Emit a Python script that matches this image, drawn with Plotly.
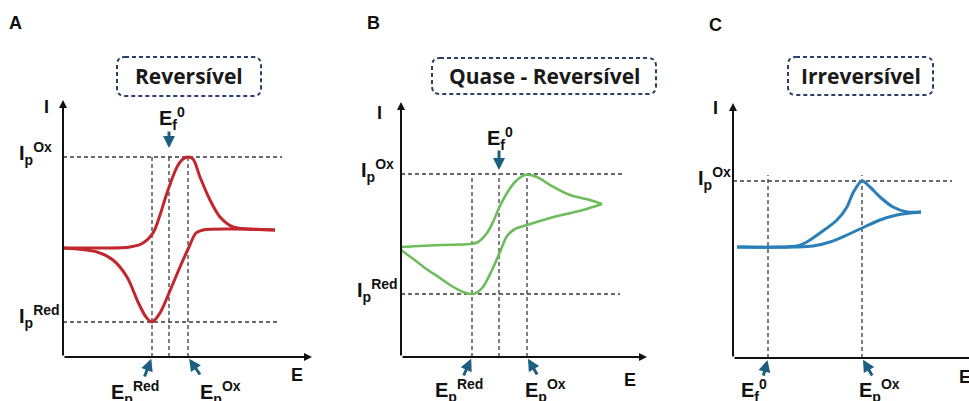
import plotly.graph_objects as go

W, H = 969, 401

# ---------------- data (E and I in arbitrary units) ----------------
# A: reversible
a_fwd_E = [0, 3.7, 6.7, 8.0, 9.0, 9.7, 10.4, 11.4, 12.0, 12.5, 13.0, 13.7, 14.7, 15.7, 17.0, 18.7, 21.2]
a_fwd_I = [10.9, 10.9, 11.0, 11.4, 12.4, 14.2, 16.4, 19.0, 19.8, 20.0, 19.8, 18.0, 15.7, 14.0, 13.0, 12.8, 12.7]
a_rev_E = [21.2, 17.0, 14.0, 13.3, 12.6, 11.7, 10.6, 9.7, 8.9, 8.3, 7.5, 6.4, 5.0, 3.4, 0]
a_rev_I = [12.7, 12.8, 12.7, 12.4, 11.0, 9.0, 6.4, 4.4, 3.5, 4.0, 5.5, 8.0, 9.7, 10.5, 10.9]
a_E_red, a_E_f0, a_E_ox = 8.9, 10.6, 12.5
a_I_red, a_I_ox = 3.5, 20.0

# B: quasi-reversible
b_fwd_E = [0, 3.9, 6.9, 7.7, 8.6, 9.2, 9.8, 10.6, 11.4, 12.4, 13.6, 14.9, 16.9, 18.9, 20.1]
b_fwd_I = [11.0, 11.2, 11.3, 11.5, 12.4, 13.5, 14.9, 16.4, 17.5, 18.2, 18.0, 17.2, 16.2, 15.7, 15.3]
b_rev_E = [20.1, 18.2, 14.9, 12.6, 11.4, 10.6, 9.9, 9.1, 8.2, 7.5, 7.0, 6.2, 4.9, 3.9, 2.4, 1.1, 0]
b_rev_I = [15.3, 14.7, 13.9, 13.2, 12.8, 12.1, 10.5, 8.7, 7.0, 6.4, 6.3, 6.5, 7.2, 7.9, 8.9, 9.9, 10.7]
b_E_red, b_E_f0, b_E_ox = 7.1, 9.8, 12.6
b_I_red, b_I_ox = 6.3, 18.3

# C: irreversible
c_fwd_E = [0.4, 4.7, 6.4, 7.2, 8.7, 10.4, 11.4, 12.0, 12.9, 13.7, 14.7, 16.0, 17.4, 18.8]
c_fwd_I = [11.1, 11.1, 11.2, 11.5, 12.5, 13.8, 15.1, 16.5, 17.7, 17.1, 16.1, 15.1, 14.6, 14.6]
c_rev_E = [18.8, 16.4, 14.7, 12.9, 11.4, 9.7, 8.0, 6.2, 0.4]
c_rev_I = [14.6, 14.3, 13.8, 13.0, 12.3, 11.6, 11.2, 11.1, 11.1]
c_E_f0, c_E_ox = 3.5, 12.9
c_I_ox = 17.7

titles = ["Reversível", "Quase - Reversível", "Irreversível"]
panel_letters = ["A", "B", "C"]

RED = "#c1272d"
GREEN = "#6dbd5c"
BLUE = "#2b7fb8"
TEAL = "#1d5f80"
GUIDE = "#3a3a3a"
NAVY = "#2b3f6b"
LABEL_FONT = "Liberation Sans, Arial, sans-serif"
TITLE_FONT = "Open Sans, sans-serif"


def px(x):
    return x / W


def py(y):
    return 1 - y / H


fig = go.Figure()

# axis frames for the three panels (pixel boxes -> paper domains)
frames = [
    dict(x0=63, x1=312, y0=357, y1=100, xr=24.9, yr=25.7),
    dict(x0=401, x1=647, y0=357, y1=102, xr=24.6, yr=25.5),
    dict(x0=733, x1=969, y0=358, y1=103, xr=23.6, yr=25.5),
]
for i, f in enumerate(frames, start=1):
    sfx = "" if i == 1 else str(i)
    fig.layout["xaxis" + sfx] = dict(domain=[px(f["x0"]), px(f["x1"])], range=[0, f["xr"]],
                                     visible=False, anchor="y" + sfx)
    fig.layout["yaxis" + sfx] = dict(domain=[py(f["y0"]), py(f["y1"])], range=[0, f["yr"]],
                                     visible=False, anchor="x" + sfx)


def guides(xa, ya, h_levels, h_len, v_pos, v_top):
    xs, ys = [], []
    for lv, ln in zip(h_levels, h_len):
        xs += [0, ln, None]
        ys += [lv, lv, None]
    for e, top in zip(v_pos, v_top):
        xs += [e, e, None]
        ys += [0, top, None]
    fig.add_trace(go.Scatter(x=xs, y=ys, mode="lines", xaxis=xa, yaxis=ya, hoverinfo="skip",
                             line=dict(color=GUIDE, width=1.3, dash="4px,3px"), showlegend=False))


def curve(xa, ya, E, I, color, width):
    fig.add_trace(go.Scatter(x=E, y=I, mode="lines", xaxis=xa, yaxis=ya, hoverinfo="skip",
                             line=dict(color=color, width=width, shape="spline", smoothing=0.9),
                             showlegend=False))


# reference lines
guides("x", "y", [a_I_ox, a_I_red], [21.9, 21.5], [a_E_red, a_E_f0, a_E_ox], [a_I_ox] * 3)
guides("x2", "y2", [b_I_ox, b_I_red], [22.1, 21.9], [b_E_red, b_E_f0, b_E_ox], [b_I_ox] * 3)
guides("x3", "y3", [c_I_ox], [21.9], [c_E_f0, c_E_ox], [c_I_ox + 0.6] * 2)

# voltammograms
curve("x", "y", a_fwd_E, a_fwd_I, RED, 3)
curve("x", "y", a_rev_E, a_rev_I, RED, 3)
curve("x2", "y2", b_fwd_E, b_fwd_I, GREEN, 2.6)
curve("x2", "y2", b_rev_E, b_rev_I, GREEN, 2.6)
curve("x3", "y3", c_fwd_E, c_fwd_I, BLUE, 3)
curve("x3", "y3", c_rev_E, c_rev_I, BLUE, 3)

ann = []

# axes with arrowheads
for i, f in enumerate(frames, start=1):
    sfx = "" if i == 1 else str(i)
    xtip = f["xr"] + (1.0 if i == 3 else 0)
    for (x, y) in [(xtip, 0), (0, f["yr"])]:
        ann.append(dict(xref="x" + sfx, yref="y" + sfx, axref="x" + sfx, ayref="y" + sfx,
                        x=x, y=y, ax=0, ay=0, showarrow=True, arrowhead=2, arrowsize=0.8,
                        arrowwidth=2, arrowcolor="#111111", text=""))


def pointer(xa, ya, x, y, dx, dy, standoff):
    ann.append(dict(xref=xa, yref=ya, x=x, y=y, ax=dx, ay=dy, showarrow=True, arrowhead=2,
                    arrowsize=0.8, arrowwidth=3, arrowcolor=TEAL, standoff=standoff, text=""))


# E_f0 markers on top and E_p markers on the E axis
pointer("x", "y", a_E_f0, a_I_ox, 0, -27, 9)
pointer("x", "y", a_E_red, 0, -8, 21, 2)
pointer("x", "y", a_E_ox, 0, 13, 19, 2)
pointer("x2", "y2", b_E_f0, b_I_ox, 0, -25, 4)
pointer("x2", "y2", b_E_red, 0, -9, 20, 2)
pointer("x2", "y2", b_E_ox, 0, 11, 19, 2)
pointer("x3", "y3", c_E_f0, 0, -5, 19, 2)
pointer("x3", "y3", c_E_ox, 0, 11, 19, 2)


def label(text, cx, cy, size=20, xanchor="center"):
    ann.append(dict(xref="paper", yref="paper", x=px(cx), y=py(cy), text="<b>" + text + "</b>",
                    showarrow=False, xanchor=xanchor, yanchor="middle",
                    font=dict(family=LABEL_FONT, size=size, color="#111111")))


IP_OX = "I<sub>p</sub><sup>Ox</sup>"
IP_RED = "I<sub>p</sub><sup>Red</sup>"
EP_OX = "E<sub>p</sub><sup>Ox</sup>"
EP_RED = "E<sub>p</sub><sup>Red</sup>"
EF0 = "E<sub>f</sub><sup>0</sup>"

# panel A
label("A", 16, 23, 18)
label("I", 46, 107, 18)
label("E", 297, 375, 18)
label(IP_OX, 17, 153, 20, "left")
label(IP_RED, 17, 316, 20, "left")
label(EF0, 172, 118, 20)
label(EP_RED, 135, 392, 20)
label(EP_OX, 220, 392, 20)

# panel B
label("B", 373, 23, 18)
label("I", 379, 113, 18)
label("E", 630, 380, 18)
label(IP_OX, 359, 170, 20, "left")
label(IP_RED, 355, 290, 20, "left")
label(EF0, 500, 138, 20)
label(EP_RED, 459, 390, 20)
label(EP_OX, 545, 390, 20)

# panel C
label("C", 715, 25, 18)
label("I", 715, 108, 18)
label("E", 965, 377, 18)
label(IP_OX, 696, 178, 20, "left")
label(EF0, 754, 390, 20)
label(EP_OX, 879, 390, 20)

# titles inside dashed rounded boxes
boxes = [(117, 57, 261, 96), (432, 58, 656, 94), (788, 57, 933, 95)]
shapes = []
for (x0, y0, x1, y1), t in zip(boxes, titles):
    X0, X1, Y0, Y1 = px(x0), px(x1), py(y0), py(y1)
    rx, ry = 8 / W, 8 / H
    path = (f"M {X0 + rx},{Y0} L {X1 - rx},{Y0} Q {X1},{Y0} {X1},{Y0 - ry} "
            f"L {X1},{Y1 + ry} Q {X1},{Y1} {X1 - rx},{Y1} L {X0 + rx},{Y1} "
            f"Q {X0},{Y1} {X0},{Y1 + ry} L {X0},{Y0 - ry} Q {X0},{Y0} {X0 + rx},{Y0} Z")
    shapes.append(dict(type="path", xref="paper", yref="paper", path=path,
                       line=dict(color=NAVY, width=2, dash="4px,3px")))
    ann.append(dict(xref="paper", yref="paper", x=(X0 + X1) / 2, y=(Y0 + Y1) / 2,
                    text="<b>" + t + "</b>", showarrow=False, xanchor="center", yanchor="middle",
                    font=dict(family=TITLE_FONT, size=21, color="#1a1a1a")))

fig.update_layout(width=W, height=H, margin=dict(l=0, r=0, t=0, b=0),
                  paper_bgcolor="white", plot_bgcolor="white",
                  annotations=ann, shapes=shapes, showlegend=False)

fig.write_html("out.html")
